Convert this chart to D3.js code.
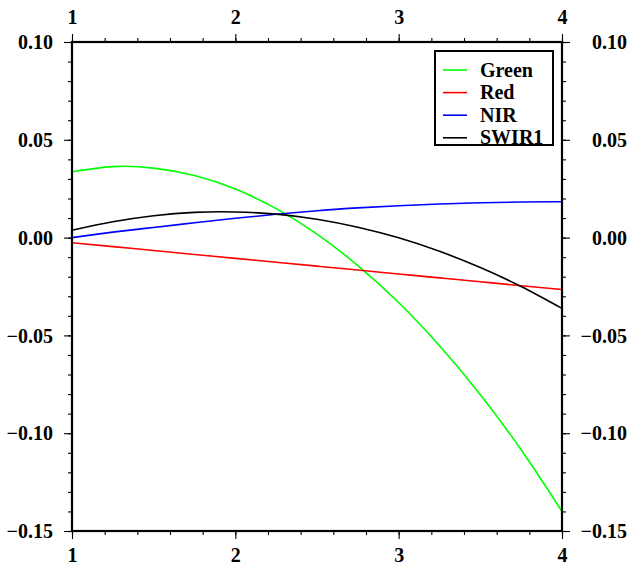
<!DOCTYPE html>
<html>
<head>
<meta charset="utf-8">
<script src="https://cdn.jsdelivr.net/npm/d3@7"></script>
<style>
    body { margin: 0; background: #fff; }
    svg text { font-family: "Liberation Serif", "Times New Roman", serif; font-weight: bold; font-size: 20px; fill: #000; }
</style>
</head>
<body>
<svg id="chart" width="630" height="565"></svg>
<script>
// values
const xValues = [1, 1.25, 1.5, 1.75, 2, 2.25, 2.5, 2.75, 3, 3.25, 3.5, 3.75, 4];
const greenValues = [0.0337, 0.0363, 0.0355, 0.0317, 0.0248, 0.0148, 0.0018, -0.0143, -0.0332, -0.0553, -0.0803, -0.1085, -0.1400];
const redValues = [-0.0026, -0.0046, -0.0066, -0.0086, -0.0106, -0.0126, -0.0146, -0.0166, -0.0186, -0.0206, -0.0226, -0.0246, -0.0265];
const nirValues = [0.0000, 0.0028, 0.0052, 0.0076, 0.0099, 0.0119, 0.0137, 0.0152, 0.0163, 0.0172, 0.0178, 0.0182, 0.0183];
const swir1Values = [0.0038, 0.0081, 0.0112, 0.0129, 0.0131, 0.0120, 0.0094, 0.0053, -0.0001, -0.0070, -0.0153, -0.0250, -0.0362];

const seriesNames = ['Green', 'Red', 'NIR', 'SWIR1'];
const seriesColors = ['#00ff00', '#ff0000', '#0000ff', '#000000'];

const xTicks = [1, 2, 3, 4];
const xTickLabels = ['1', '2', '3', '4'];
const yTicks = [0.10, 0.05, 0.00, -0.05, -0.10, -0.15];
const yTickLabels = ['0.10', '0.05', '0.00', '\u22120.05', '\u22120.10', '\u22120.15'];

class SpectralChart {
    constructor() {
        this.MARGIN = {top: 42, right: 68, bottom: 34, left: 72};
        this.WIDTH = 630;
        this.HEIGHT = 565;

        this.series = [greenValues, redValues, nirValues, swir1Values].map((vals, i) => ({
            name: seriesNames[i],
            color: seriesColors[i],
            points: xValues.map((x, j) => ({x: x, y: vals[j]}))
        }));

        this.xScale = d3.scaleLinear()
            .domain([1, 4])
            .range([this.MARGIN.left, this.WIDTH - this.MARGIN.right]);

        this.yScale = d3.scaleLinear()
            .domain([-0.15, 0.10])
            .range([this.HEIGHT - this.MARGIN.bottom, this.MARGIN.top]);

        this.svg = d3.select('#chart');
        this.drawChart();
    }

    drawChart() {
        this.drawLines();
        this.drawFrame();
        this.drawAxis();
        this.drawLegend();
    }

    drawLines() {
        let line = d3.line()
            .x(d => this.xScale(d.x))
            .y(d => this.yScale(d.y))
            .curve(d3.curveNatural);

        this.svg.append('g')
            .selectAll('path')
            .data(this.series)
            .join('path')
            .attr('d', d => line(d.points))
            .attr('fill', 'none')
            .attr('stroke', d => d.color)
            .attr('stroke-width', 1.6);
    }

    drawFrame() {
        let [x0, x1] = this.xScale.range();
        let [y1, y0] = this.yScale.range();
        this.svg.append('rect')
            .attr('x', x0).attr('y', y0)
            .attr('width', x1 - x0).attr('height', y1 - y0)
            .attr('fill', 'none')
            .attr('stroke', '#000')
            .attr('stroke-width', 2.2);
    }

    drawAxis() {
        let [x0, x1] = this.xScale.range();
        let [y1, y0] = this.yScale.range();
        let minorX = d3.range(1, 4.001, 0.2);
        let minorY = d3.range(-0.15, 0.1001, 0.01);

        // minor ticks, all four sides
        let minor = [
            [d3.axisBottom(this.xScale).tickValues(minorX), `translate(0, ${y1})`],
            [d3.axisTop(this.xScale).tickValues(minorX), `translate(0, ${y0})`],
            [d3.axisLeft(this.yScale).tickValues(minorY), `translate(${x0}, 0)`],
            [d3.axisRight(this.yScale).tickValues(minorY), `translate(${x1}, 0)`]
        ];
        minor.forEach(([axis, tr]) => {
            let g = this.svg.append('g').attr('transform', tr)
                .call(axis.tickSize(4).tickFormat(''));
            g.select('.domain').remove();
            g.selectAll('line').attr('stroke-width', 1.1);
        });

        // major ticks + labels
        let xFmt = (d, i) => xTickLabels[xTicks.indexOf(d)];
        let yFmt = (d) => yTickLabels[yTicks.findIndex(t => Math.abs(t - d) < 1e-9)];

        let bottom = this.svg.append('g').attr('transform', `translate(0, ${y1})`)
            .call(d3.axisBottom(this.xScale).tickValues(xTicks).tickSize(8).tickFormat(xFmt));
        bottom.selectAll('text').attr('y', 31).attr('dy', null);

        let top = this.svg.append('g').attr('transform', `translate(0, ${y0})`)
            .call(d3.axisTop(this.xScale).tickValues(xTicks).tickSize(8).tickFormat(xFmt));
        top.selectAll('text').attr('y', -18).attr('dy', null);

        let left = this.svg.append('g').attr('transform', `translate(${x0}, 0)`)
            .call(d3.axisLeft(this.yScale).tickValues(yTicks).tickSize(8).tickFormat(yFmt));
        left.selectAll('text').attr('x', -19).attr('dy', '0.33em');

        let right = this.svg.append('g').attr('transform', `translate(${x1}, 0)`)
            .call(d3.axisRight(this.yScale).tickValues(yTicks).tickSize(8).tickFormat(yFmt));
        right.selectAll('text').attr('x', 65).attr('dy', '0.33em').attr('text-anchor', 'end');

        [bottom, top, left, right].forEach(g => {
            g.select('.domain').remove();
            g.selectAll('line').attr('stroke-width', 1.1);
            g.selectAll('text').attr('font-family', null).attr('font-size', null).attr('fill', '#000');
        });
    }

    drawLegend() {
        let legend = this.svg.append('g');
        legend.append('rect')
            .attr('x', 435).attr('y', 51)
            .attr('width', 118).attr('height', 94)
            .attr('fill', '#fff')
            .attr('stroke', '#000')
            .attr('stroke-width', 2);

        let rows = legend.selectAll('g.row')
            .data(this.series)
            .join('g')
            .attr('class', 'row')
            .attr('transform', (d, i) => `translate(0, ${70 + i * 22.6})`);

        rows.append('line')
            .attr('x1', 443).attr('x2', 467)
            .attr('stroke', d => d.color)
            .attr('stroke-width', 1.6);

        rows.append('text')
            .attr('x', 480)
            .attr('dy', '0.33em')
            .text(d => d.name);
    }
}

new SpectralChart();
</script>
</body>
</html>
